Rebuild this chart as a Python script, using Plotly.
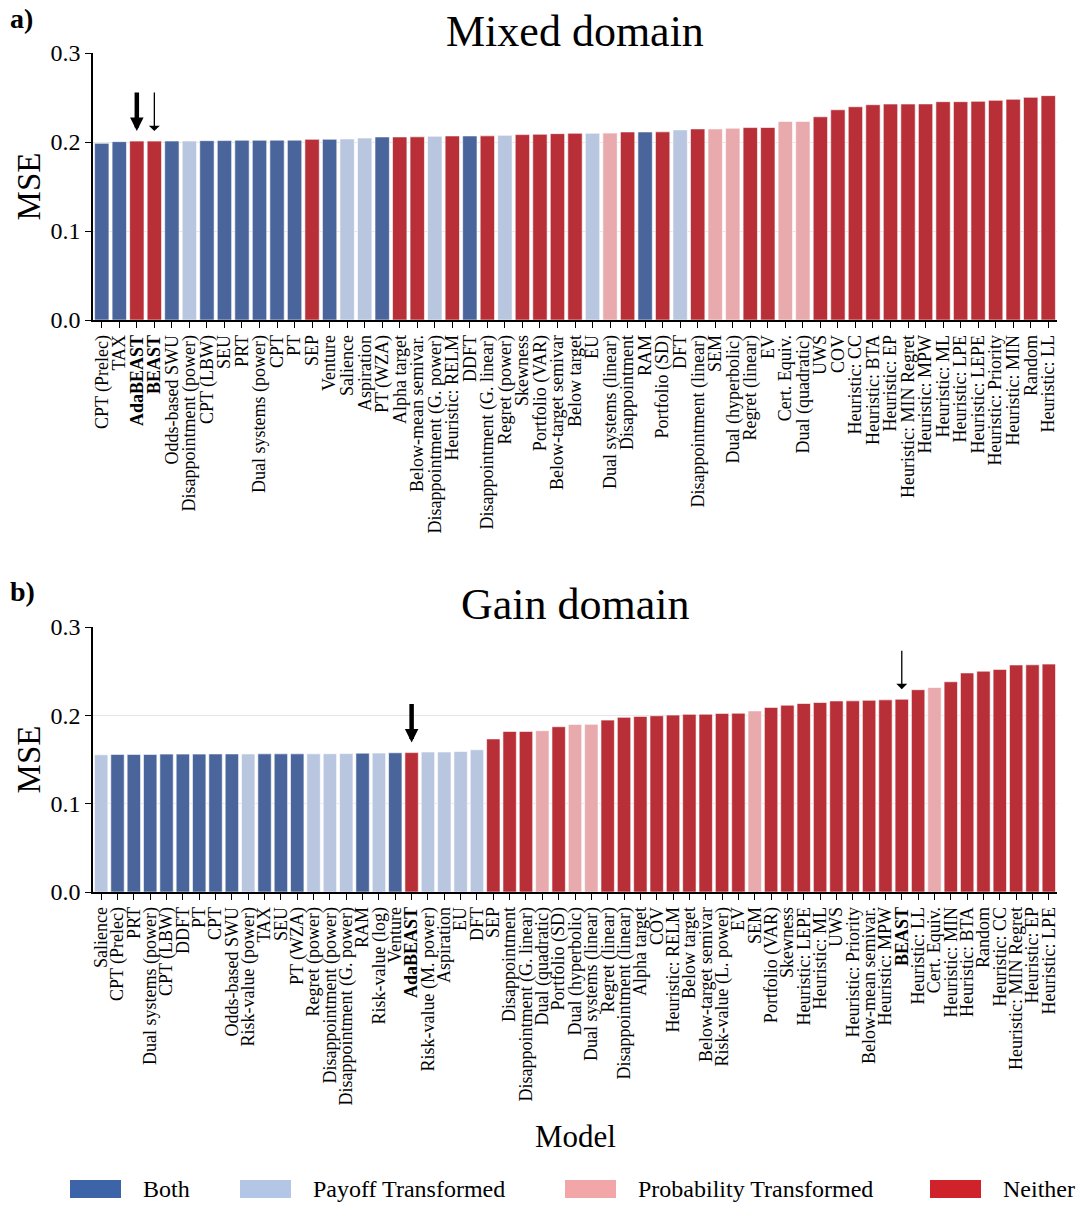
import plotly.graph_objects as go

# ---------------- data ----------------
mixed_models = [
    "CPT (Prelec)", "TAX", "AdaBEAST", "BEAST", "Odds-based SWU", "Disappointment (power)",
    "CPT (LBW)", "SEU", "PRT", "Dual systems (power)", "CPT", "PT", "SEP", "Venture",
    "Salience", "Aspiration", "PT (WZA)", "Alpha target", "Below-mean semivar.",
    "Disappointment (G. power)", "Heuristic: RELM", "DDFT", "Disappointment (G. linear)",
    "Regret (power)", "Skewness", "Portfolio (VAR)", "Below-target semivar", "Below target",
    "EU", "Dual systems (linear)", "Disappointment", "RAM", "Portfolio (SD)", "DFT",
    "Disappointment (linear)", "SEM", "Dual (hyperbolic)", "Regret (linear)", "EV",
    "Cert. Equiv.", "Dual (quadratic)", "UWS", "COV", "Heuristic: CC", "Heuristic: BTA",
    "Heuristic: EP", "Heuristic: MIN Regret", "Heuristic: MPW", "Heuristic: ML",
    "Heuristic: LPE", "Heuristic: LEPE", "Heuristic: Priority", "Heuristic: MIN", "Random",
    "Heuristic: LL",
]
mixed_mse = [
    0.1985, 0.2004, 0.2010, 0.2010, 0.2011, 0.2011, 0.2015, 0.2016, 0.2020, 0.2020,
    0.2021, 0.2021, 0.2030, 0.2031, 0.2034, 0.2045, 0.2057, 0.2057, 0.2058, 0.2064,
    0.2068, 0.2068, 0.2069, 0.2075, 0.2083, 0.2087, 0.2094, 0.2098, 0.2098, 0.2100,
    0.2113, 0.2113, 0.2114, 0.2136, 0.2147, 0.2147, 0.2155, 0.2162, 0.2163, 0.2230,
    0.2230, 0.2283, 0.2362, 0.2396, 0.2419, 0.2427, 0.2427, 0.2428, 0.2453, 0.2453,
    0.2457, 0.2468, 0.2480, 0.2502, 0.2521,
]
mixed_group = [
    "B", "B", "N", "N", "B", "P", "B", "B", "B", "B", "B", "B", "N", "B", "P", "P", "B",
    "N", "N", "P", "N", "B", "N", "P", "N", "N", "N", "N", "P", "Q", "N", "B", "N", "P",
    "N", "Q", "Q", "N", "N", "Q", "Q", "N", "N", "N", "N", "N", "N", "N", "N", "N", "N",
    "N", "N", "N", "N",
]

gain_models = [
    "Salience", "CPT (Prelec)", "PRT", "Dual systems (power)", "CPT (LBW)", "DDFT", "PT",
    "CPT", "Odds-based SWU", "Risk-value (power)", "TAX", "SEU", "PT (WZA)",
    "Regret (power)", "Disappointment (power)", "Disappointment (G. power)", "RAM",
    "Risk-value (log)", "Venture", "AdaBEAST", "Risk-value (M. power)", "Aspiration", "EU",
    "DFT", "SEP", "Disappointment", "Disappointment (G. linear)", "Dual (quadratic)",
    "Portfolio (SD)", "Dual (hyperbolic)", "Dual systems (linear)", "Regret (linear)",
    "Disappointment (linear)", "Alpha target", "COV", "Heuristic: RELM", "Below target",
    "Below-target semivar", "Risk-value (L. power)", "EV", "SEM", "Portfolio (VAR)",
    "Skewness", "Heuristic: LEPE", "Heuristic: ML", "UWS", "Heuristic: Priority",
    "Below-mean semivar.", "Heuristic: MPW", "BEAST", "Heuristic: LL", "Cert. Equiv.",
    "Heuristic: MIN", "Heuristic: BTA", "Random", "Heuristic: CC", "Heuristic: MIN Regret",
    "Heuristic: EP", "Heuristic: LPE",
]
gain_mse = [
    0.1553, 0.1558, 0.1558, 0.1558, 0.1561, 0.1561, 0.1561, 0.1563, 0.1563, 0.1563,
    0.1564, 0.1564, 0.1564, 0.1564, 0.1565, 0.1567, 0.1572, 0.1573, 0.1576, 0.1578,
    0.1585, 0.1585, 0.1590, 0.1610, 0.1733, 0.1818, 0.1818, 0.1826, 0.1871, 0.1897,
    0.1898, 0.1946, 0.1977, 0.1988, 0.1995, 0.2003, 0.2011, 0.2013, 0.2022, 0.2024,
    0.2050, 0.2090, 0.2115, 0.2134, 0.2145, 0.2163, 0.2164, 0.2170, 0.2175, 0.2182,
    0.2290, 0.2315, 0.2380, 0.2480, 0.2500, 0.2520, 0.2570, 0.2572, 0.2580,
]
gain_group = [
    "P", "B", "B", "B", "B", "B", "B", "B", "B", "P", "B", "B", "B", "P", "P", "P", "B",
    "P", "B", "N", "P", "P", "P", "P", "N", "N", "N", "Q", "N", "Q", "Q", "N", "N", "N",
    "N", "N", "N", "N", "N", "N", "Q", "N", "N", "N", "N", "N", "N", "N", "N", "N", "N",
    "Q", "N", "N", "N", "N", "N", "N", "N",
]

group_labels = ["Both", "Payoff Transformed", "Probability Transformed", "Neither"]
group_codes = ["B", "P", "Q", "N"]
highlight_models = ["AdaBEAST", "BEAST"]

# ---------------- style ----------------
bar_colors = {"B": "#4a649c", "P": "#b8c6df", "Q": "#e9aaae", "N": "#b82f38"}
legend_colors = {"B": "#3d63a8", "P": "#b3c6e6", "Q": "#f3a6a8", "N": "#d0222a"}
SERIF = "Liberation Serif, Times New Roman, serif"

# body margin removed by post_script, so figure fills the window exactly
W, H = 1087, 1206

def px(x):
    return x / W

def py(y):
    return 1 - y / H

fig = go.Figure()

def tick_text(models):
    return [f"<b>{m}</b>" if m in highlight_models else m for m in models]

panels = [
    (mixed_models, mixed_mse, mixed_group, "x", "y"),
    (gain_models, gain_mse, gain_group, "x2", "y2"),
]
for models, vals, groups, xa, ya in panels:
    fig.add_trace(go.Bar(
        x=models, y=vals, xaxis=xa, yaxis=ya,
        marker=dict(color=[bar_colors[g] for g in groups],
                    line=dict(color="rgba(255,255,255,0.6)", width=1)),
        showlegend=False, hoverinfo="x+y",
    ))

x0, x1 = px(93), px(1057)
top_dom = [py(320), py(53)]
bot_dom = [py(892), py(627)]

def xaxis_cfg(models, anchor):
    return dict(
        domain=[x0, x1], anchor=anchor, type="category",
        categoryorder="array", categoryarray=models,
        tickmode="array", tickvals=models, ticktext=tick_text(models),
        tickangle=-90, tickfont=dict(family=SERIF, size=18, color="black"),
        showline=True, linecolor="black", linewidth=1.5,
        ticks="outside", ticklen=6, tickwidth=1.2, tickcolor="black",
        showgrid=False, automargin=False, range=[-0.5, len(models) - 0.5],
    )

def yaxis_cfg(dom, anchor):
    return dict(
        domain=dom, anchor=anchor, range=[0, 0.3],
        tickvals=[0.0, 0.1, 0.2, 0.3], ticktext=["0.0", "0.1", "0.2", "0.3"],
        tickfont=dict(family=SERIF, size=24, color="black"),
        showline=True, linecolor="black", linewidth=1.5,
        ticks="outside", ticklen=6, tickwidth=1.2, tickcolor="black",
        showgrid=True, gridcolor="#e6e6e6", gridwidth=1,
        zeroline=False, automargin=False,
        title=dict(text="MSE", font=dict(family=SERIF, size=33, color="black"), standoff=0),
    )

fig.update_layout(
    width=W, height=H,
    margin=dict(l=0, r=0, t=0, b=0),
    paper_bgcolor="white", plot_bgcolor="white",
    bargap=0.18,
    xaxis=xaxis_cfg(mixed_models, "y"),
    yaxis=yaxis_cfg(top_dom, "x"),
    xaxis2=xaxis_cfg(gain_models, "y2"),
    yaxis2=yaxis_cfg(bot_dom, "x2"),
    showlegend=False,
)

ann = []

def text_ann(text, x, y, size, xanchor="center"):
    return dict(text=text, x=px(x), y=py(y), xref="paper", yref="paper",
                xanchor=xanchor, yanchor="middle", showarrow=False,
                font=dict(family=SERIF, size=size, color="black"))

ann.append(text_ann("Mixed domain", 575, 31, 44))
ann.append(text_ann("Gain domain", 575, 604, 44))
ann.append(text_ann("<b>a)</b>", 8, 18, 28, xanchor="left"))
ann.append(text_ann("<b>b)</b>", 8, 591, 28, xanchor="left"))
ann.append(text_ann("Model", 575, 1136, 31))

# arrows marking AdaBEAST (thick) and BEAST (thin)
for models, vals, xa, ya in [(mixed_models, mixed_mse, "x", "y"), (gain_models, gain_mse, "x2", "y2")]:
    for m, w in [("AdaBEAST", 4.5), ("BEAST", 1.3)]:
        i = models.index(m)
        ann.append(dict(x=m, y=vals[i], xref=xa, yref=ya, text="", showarrow=True,
                        ax=0, ay=-50, axref="pixel", ayref="pixel",
                        arrowhead=2 if w > 2 else 1, arrowsize=0.6 if w > 2 else 1.4,
                        arrowwidth=w, arrowcolor="black", standoff=10))

# legend (bottom)
legend_x = [70, 240, 565, 930]
shapes = []
for code, label, lx in zip(group_codes, group_labels, legend_x):
    shapes.append(dict(type="rect", xref="paper", yref="paper",
                       x0=px(lx), x1=px(lx + 51), y0=py(1198), y1=py(1180),
                       fillcolor=legend_colors[code], line=dict(width=0)))
    ann.append(text_ann(label, lx + 71, 1189, 24, xanchor="left"))

fig.update_layout(annotations=ann, shapes=shapes)
fig.write_html(
    "out.html",
    config={"displayModeBar": False},
    post_script="document.body.style.margin='0px';document.body.style.overflow='hidden';",
)
